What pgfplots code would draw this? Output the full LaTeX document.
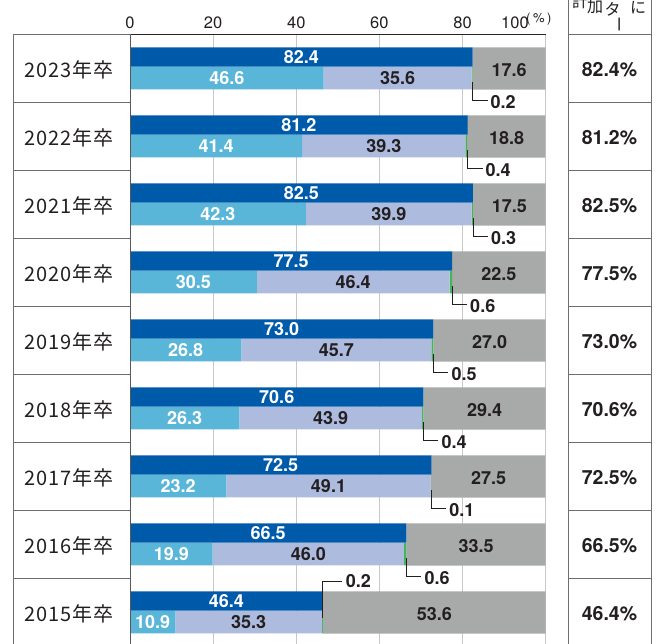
\documentclass[border=0pt]{standalone}
\usepackage{pgfplots}
\pgfplotsset{compat=1.18}
\usepackage{pgfplotstable}
\usepackage{fontspec}
\setmainfont{TeX Gyre Heros}
\newfontfamily\jp{Noto Sans CJK JP}
\newfontfamily\jpls[LetterSpace=5]{Noto Sans CJK JP}

\definecolor{dblue}{RGB}{0,90,170}
\definecolor{lblue}{RGB}{90,182,216}
\definecolor{lav}{RGB}{173,187,223}
\definecolor{gry}{RGB}{168,170,169}
\definecolor{grn}{RGB}{70,180,90}
\definecolor{txt}{RGB}{35,31,32}
\definecolor{boxline}{RGB}{110,110,110}
\definecolor{gridc}{RGB}{200,200,200}

\newcommand\lbl{\fontsize{18}{18}\selectfont\bfseries}
\newcommand\lblr{\fontsize{19.5}{19.5}\selectfont\bfseries}

\pgfplotstableread{
row year total lb lav gr gy
0 2023 82.4 46.6 35.6 0.2 17.6
1 2022 81.2 41.4 39.3 0.4 18.8
2 2021 82.5 42.3 39.9 0.3 17.5
3 2020 77.5 30.5 46.4 0.6 22.5
4 2019 73.0 26.8 45.7 0.5 27.0
5 2018 70.6 26.3 43.9 0.4 29.4
6 2017 72.5 23.2 49.1 0.1 27.5
7 2016 66.5 19.9 46.0 0.6 33.5
8 2015 46.4 10.9 35.3 0.2 53.6
}\data

\pgfplotsset{base/.style={at={(130pt,-34.5pt)}, anchor=north west, scale only axis,
  width=415.7pt, height=612pt, xmin=0, xmax=100, ymin=-0.5, ymax=8.5, y dir=reverse, clip=false}}

\begin{document}
\begin{tikzpicture}
\useasboundingbox (0,0) rectangle (659pt,-644pt);
\clip (0,0) rectangle (659pt,-644pt);

% stacked bars (bottom row + gray block)
\begin{axis}[base, axis line style={draw=none},
  xtick={0,20,40,60,80,100}, xticklabels={0,20,40,60,80,{}},
  xticklabel pos=upper, major tick length=0pt, ytick=\empty,
  xmajorgrids, major grid style={gridc, line width=0.8pt},
  /pgf/number format/assume math mode=true,
  xticklabel style={anchor=base, inner sep=0pt, yshift=5.7pt, font=\fontsize{16.5}{16.5}\selectfont, text=txt},
  xbar stacked]
\addplot[fill=lblue, draw=none, bar width=0.332, bar shift=0.14] table[x=lb, y=row]{\data};
\addplot[fill=lav, draw=none, bar width=0.332, bar shift=0.14] table[x=lav, y=row]{\data};
\addplot[fill=grn, draw=none, bar width=0.332, bar shift=0.14] table[x=gr, y=row]{\data};
\addplot[fill=gry, draw=none, bar width=0.618, bar shift=0] table[x=gy, y=row]{\data};
\end{axis}

% total bar and labels
\begin{axis}[base, hide axis]
\addplot[xbar, fill=dblue, draw=none, bar width=0.285, bar shift=-0.169] table[x=total, y=row]{\data};
\addplot[draw=none, mark=none, nodes near coords, point meta=explicit symbolic,
  every node near coord/.append style={anchor=center, text=white, font=\lbl}]
  table[x expr=\thisrow{total}/2, y expr=\thisrow{row}-0.169, meta=total]{\data};
\addplot[draw=none, mark=none, nodes near coords, point meta=explicit symbolic,
  every node near coord/.append style={anchor=center, text=white, font=\lbl}]
  table[x expr=\thisrow{lb}/2, y expr=\thisrow{row}+0.14, meta=lb]{\data};
\addplot[draw=none, mark=none, nodes near coords, point meta=explicit symbolic,
  every node near coord/.append style={anchor=center, text=txt, font=\lbl}]
  table[x expr=\thisrow{lb}+\thisrow{lav}/2, y expr=\thisrow{row}+0.14, meta=lav]{\data};
\addplot[draw=none, mark=none, nodes near coords, point meta=explicit symbolic,
  every node near coord/.append style={anchor=center, text=txt, font=\lbl}]
  table[x expr=\thisrow{total}+\thisrow{gy}/2, y expr=\thisrow{row}+0.02, meta=gy]{\data};
\addplot[draw=none, mark=none, nodes near coords, point meta=explicit symbolic,
  skip coords between index={8}{9},
  every node near coord/.append style={anchor=west, inner sep=0pt, text=txt, font=\lbl}]
  table[x expr=\thisrow{total}+4.3, y expr=\thisrow{row}+0.5, meta=gr]{\data};
\addplot[draw=none, mark=none, nodes near coords, point meta=explicit symbolic,
  skip coords between index={0}{8},
  every node near coord/.append style={anchor=west, inner sep=0pt, text=txt, font=\lbl}]
  table[x expr=\thisrow{total}+5.5, y expr=\thisrow{row}-0.46, meta=gr]{\data};
% leader lines
\draw[txt, line width=0.8pt] (axis cs:82.4,0.2) |- (axis cs:86,0.47);
\draw[txt, line width=0.8pt] (axis cs:81.2,1.2) |- (axis cs:84.8,1.47);
\draw[txt, line width=0.8pt] (axis cs:82.5,2.2) |- (axis cs:86.1,2.47);
\draw[txt, line width=0.8pt] (axis cs:77.5,3.2) |- (axis cs:81.1,3.47);
\draw[txt, line width=0.8pt] (axis cs:73.0,4.2) |- (axis cs:76.6,4.47);
\draw[txt, line width=0.8pt] (axis cs:70.6,5.2) |- (axis cs:74.2,5.47);
\draw[txt, line width=0.8pt] (axis cs:72.5,6.2) |- (axis cs:76.1,6.47);
\draw[txt, line width=0.8pt] (axis cs:66.5,7.2) |- (axis cs:70.1,7.47);
\draw[txt, line width=0.8pt] (axis cs:46.4,8.08) |- (axis cs:51.1,7.54);
\end{axis}

\begin{scope}[x=1pt,y=-1pt]
% frame lines
\draw[black!85, line width=1pt] (129.5,34.5) -- (546,34.5);
\draw[black!65, line width=1pt] (130,34.5) -- (130,650);
% left table
\draw[boxline, line width=0.9pt] (13,34.5) -- (129.5,34.5);
\draw[boxline, line width=0.9pt] (13,34.5) -- (13,650);
\foreach \k in {1,...,8} \draw[boxline, line width=0.9pt] (13,34.5+68*\k) -- (129.5,34.5+68*\k);
% right table
\draw[boxline, line width=0.9pt] (568,-5) -- (568,650);
\draw[boxline, line width=0.9pt] (651,-5) -- (651,650);
\foreach \k in {0,...,8} \draw[boxline, line width=0.9pt] (568,34.5+68*\k) -- (651,34.5+68*\k);
% row labels
\foreach \i/\y/\v in {0/2023/82.4,1/2022/81.2,2/2021/82.5,3/2020/77.5,4/2019/73.0,5/2018/70.6,6/2017/72.5,7/2016/66.5,8/2015/46.4}{
  \node[text=txt, inner sep=0pt] at (69,69.5+68*\i) {\fontsize{20}{20}\selectfont\jpls \y 年卒};
  \node[text=txt, inner sep=0pt] at (609.5,70+68*\i) {\lblr \v\%};
}
% 100 and (%)
\node[text=txt, anchor=base, inner sep=0pt] at (515,28.3) {\fontsize{16.5}{16.5}\selectfont 100};
\node[text=txt, anchor=west, inner sep=0pt] at (526,19) {\fontsize{13}{13}\selectfont (\hspace{2.5pt}\%\hspace{2.5pt})};
% header (vertical text, cut off)
\node[text=txt, inner sep=0pt] at (580,1) {\fontsize{16}{16}\selectfont\jp 計};
\node[text=txt, inner sep=0pt] at (595,6.5) {\fontsize{16}{16}\selectfont\jp 加};
\node[text=txt, inner sep=0pt] at (612.5,9) {\fontsize{16}{16}\selectfont\jp タ};
\node[text=txt, inner sep=0pt, rotate=-90] at (617,25) {\fontsize{16}{16}\selectfont\jp ー};
\node[text=txt, inner sep=0pt] at (638,8) {\fontsize{16}{16}\selectfont\jp に};
\end{scope}
\end{tikzpicture}
\end{document}
